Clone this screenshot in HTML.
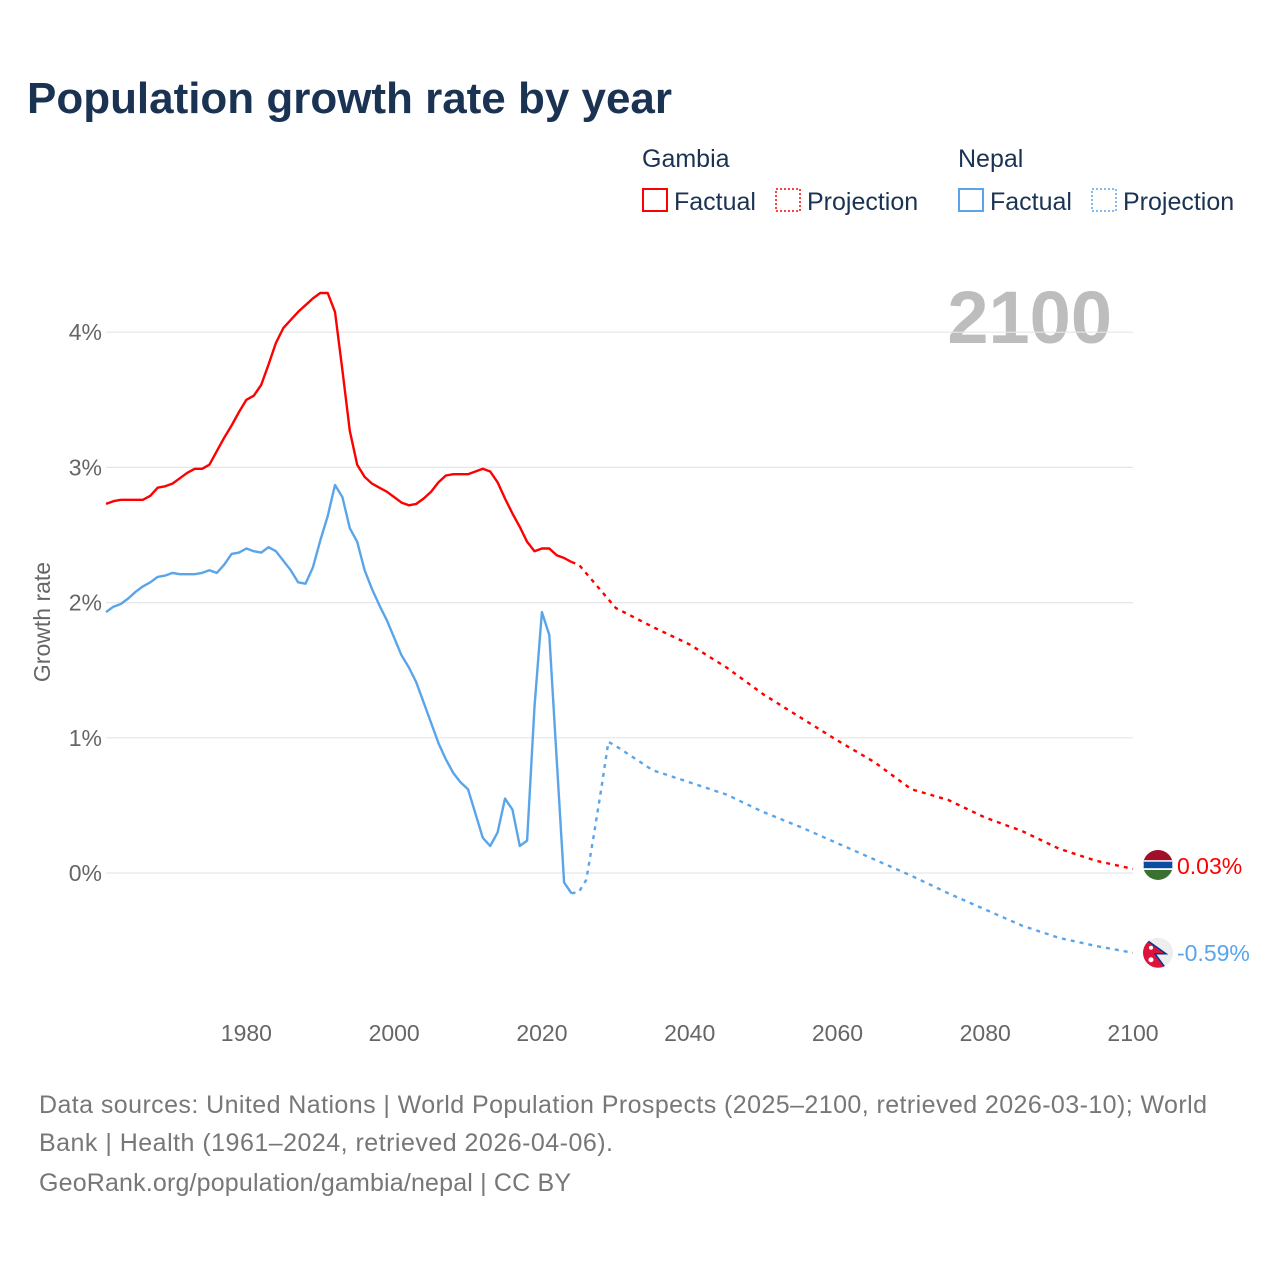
<!DOCTYPE html>
<html><head><meta charset="utf-8"><style>
body{margin:0;background:#fff;font-family:"Liberation Sans",sans-serif;}
#wrap{position:relative;width:1280px;height:1280px;overflow:hidden;}
</style></head><body>
<div id="wrap">
<svg id="chart" width="1280" height="1280" style="font-family:'Liberation Sans',sans-serif">
<text x="27" y="113" font-size="44" font-weight="bold" fill="#1b3353" textLength="645">Population growth rate by year</text>
<g font-size="25" fill="#1b3353">
<text x="642" y="167">Gambia</text>
<text x="958" y="167">Nepal</text>
<g><rect x="643" y="189" width="24" height="22" fill="none" stroke="#f00" stroke-width="2"/><text x="674" y="210">Factual</text></g>
<g><rect x="776" y="189" width="24" height="22" fill="none" stroke="#f00" stroke-width="1.5" stroke-dasharray="2,2"/><text x="807" y="210">Projection</text></g>
<g><rect x="959" y="189" width="24" height="22" fill="none" stroke="#5aa5ea" stroke-width="2"/><text x="990" y="210">Factual</text></g>
<g><rect x="1092" y="189" width="24" height="22" fill="none" stroke="#5aa5ea" stroke-width="1.5" stroke-dasharray="2,2"/><text x="1123" y="210">Projection</text></g>
</g>
<text x="1112" y="343" font-size="74" font-weight="bold" fill="#bdbdbd" text-anchor="end">2100</text>
<text transform="translate(50,622) rotate(-90)" font-size="23" fill="#666" text-anchor="middle">Growth rate</text>
<g id="grid"></g><g id="series"></g>
<g font-size="25" fill="#777">
<text x="39" y="1113" textLength="1168">Data sources: United Nations | World Population Prospects (2025–2100, retrieved 2026-03-10); World</text>
<text x="39" y="1151" textLength="574">Bank | Health (1961–2024, retrieved 2026-04-06).</text>
<text x="39" y="1191" textLength="532">GeoRank.org/population/gambia/nepal | CC BY</text>
</g>
</svg></div>
<script>
const yTicks=[0,1,2,3,4];
const xTicks=[1980,2000,2020,2040,2060,2080,2100];
const factYears=[];for(let y=1961;y<=2024;y++)factYears.push(y);
const gambiaFact=[2.73,2.75,2.76,2.76,2.76,2.76,2.79,2.85,2.86,2.88,2.92,2.96,2.99,2.99,3.02,3.12,3.22,3.31,3.41,3.50,3.53,3.61,3.76,3.92,4.03,4.09,4.15,4.20,4.25,4.29,4.29,4.15,3.72,3.27,3.02,2.93,2.88,2.85,2.82,2.78,2.74,2.72,2.73,2.77,2.82,2.89,2.94,2.95,2.95,2.95,2.97,2.99,2.97,2.89,2.77,2.66,2.56,2.45,2.38,2.40,2.40,2.35,2.33,2.30];
const nepalFact=[1.93,1.97,1.99,2.03,2.08,2.12,2.15,2.19,2.20,2.22,2.21,2.21,2.21,2.22,2.24,2.22,2.28,2.36,2.37,2.40,2.38,2.37,2.41,2.38,2.31,2.24,2.15,2.14,2.26,2.46,2.64,2.87,2.78,2.55,2.45,2.24,2.10,1.98,1.87,1.74,1.61,1.52,1.41,1.26,1.11,0.96,0.84,0.74,0.67,0.62,0.44,0.26,0.20,0.30,0.55,0.47,0.20,0.24,1.23,1.93,1.76,0.84,-0.07,-0.15];
const gambiaProjYears=[2024,2025,2030,2035,2040,2045,2050,2055,2060,2065,2070,2075,2080,2085,2090,2095,2100];
const gambiaProj=[2.30,2.28,1.96,1.82,1.69,1.52,1.32,1.15,0.98,0.82,0.62,0.54,0.41,0.31,0.18,0.09,0.03];
const nepalProjYears=[2024,2025,2026,2027,2028,2029,2030,2035,2040,2045,2050,2055,2060,2065,2070,2075,2080,2085,2090,2095,2100];
const nepalProj=[-0.15,-0.14,-0.05,0.27,0.61,0.97,0.94,0.76,0.67,0.58,0.45,0.34,0.22,0.10,-0.02,-0.15,-0.27,-0.39,-0.48,-0.54,-0.59];
const NS='http://www.w3.org/2000/svg';
const X=y=>106+(y-1961)*(1133-106)/(2100-1961);
const Y=v=>873-v*135.2;
function mk(t,a,p){const e=document.createElementNS(NS,t);for(const k in a)e.setAttribute(k,a[k]);p.appendChild(e);return e;}
const grid=document.getElementById('grid'),ser=document.getElementById('series');
yTicks.forEach(v=>{
 const l=mk('line',{x1:106,x2:1133,y1:Y(v),y2:Y(v),stroke:'#e6e6e6','stroke-width':1.2},grid);
 
 
 const t=mk('text',{x:102,y:Y(v)+8,'font-size':23,fill:'#666','text-anchor':'end'},grid);t.textContent=v+'%';
 
 
});
xTicks.forEach(y=>{
 const t=mk('text',{x:X(y),y:1041,'font-size':23,fill:'#666','text-anchor':'middle'},grid);t.textContent=y;
 
 
});
function line(xs,vs,col,dash,name){
 const d=xs.map((y,i)=>(i?'L':'M')+X(y).toFixed(1)+','+Y(vs[i]).toFixed(1)).join('');
 const p=mk('path',{d:d,fill:'none',stroke:col,'stroke-width':2.4,'stroke-linejoin':'round'},ser);
 if(dash)p.setAttribute('stroke-dasharray','4,5');
 
 
}
line(factYears,gambiaFact,'#f00',false,'gambia-factual-line');
line(gambiaProjYears,gambiaProj,'#f00',true,'gambia-projection-line');
line(factYears,nepalFact,'#5aa5ea',false,'nepal-factual-line');
line(nepalProjYears,nepalProj,'#5aa5ea',true,'nepal-projection-line');
const gv=gambiaProj[gambiaProj.length-1],nv=nepalProj[nepalProj.length-1];
const gy=Y(gv)-4,ny=Y(nv);
const cx=1158;
const defs=mk('defs',{},ser);
const c1=mk('clipPath',{id:'cg'},defs);mk('circle',{cx:cx,cy:gy,r:15},c1);
const c2=mk('clipPath',{id:'cn'},defs);mk('circle',{cx:cx,cy:ny,r:15},c2);
const gf=mk('g',{'clip-path':'url(#cg)'},ser);


mk('rect',{x:cx-15,y:gy-15,width:30,height:11,fill:'#a0102a'},gf);
mk('rect',{x:cx-15,y:gy-4,width:30,height:8,fill:'#0c4ca0',stroke:'#fff','stroke-width':1.5},gf);
mk('rect',{x:cx-15,y:gy+5,width:30,height:11,fill:'#3a7030'},gf);
const nf=mk('g',{'clip-path':'url(#cn)'},ser);


mk('rect',{x:cx-15,y:ny-15,width:30,height:30,fill:'#eee'},nf);
mk('polygon',{points:`${cx-16},${ny-16} ${cx+8},${ny+1} ${cx-3},${ny+1} ${cx+8},${ny+16} ${cx-16},${ny+16}`,fill:'#dc143c',stroke:'#003893','stroke-width':1.5},nf);
mk('circle',{cx:cx-7,cy:ny-5,r:2,fill:'#fff'},nf);mk('circle',{cx:cx-7,cy:ny+7,r:2.5,fill:'#fff'},nf);
const gt=mk('text',{x:1177,y:gy+9,'font-size':23,fill:'#f00'},ser);gt.textContent=gv.toFixed(2)+'%';


const nt=mk('text',{x:1177,y:ny+8,'font-size':23,fill:'#5aa5ea'},ser);nt.textContent=nv.toFixed(2)+'%';


</script>
</body></html>
